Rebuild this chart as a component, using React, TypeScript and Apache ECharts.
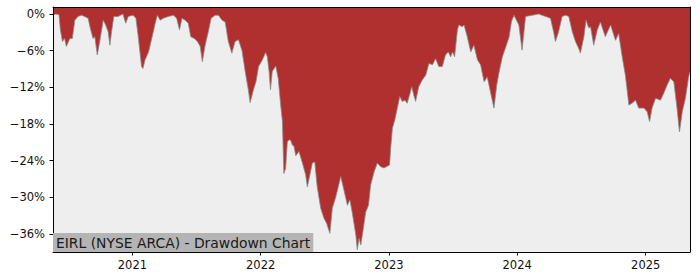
import React, { useEffect, useRef } from "react";
import * as echarts from "echarts";

const dates: string[] = [
  "2020-05-20","2020-05-28","2020-06-06","2020-06-10","2020-06-16","2020-06-22","2020-06-27","2020-07-07","2020-07-14","2020-07-21","2020-07-30","2020-08-09","2020-08-18","2020-08-28","2020-09-03","2020-09-11","2020-09-16","2020-09-23","2020-09-30","2020-10-10","2020-10-17","2020-10-24","2020-10-29","2020-11-02","2020-11-09","2020-11-21","2020-12-05","2020-12-13","2020-12-20",
  "2021-01-03","2021-01-11","2021-01-17","2021-01-27","2021-01-31","2021-02-06","2021-02-16","2021-02-25","2021-03-07","2021-03-13","2021-03-21","2021-03-30","2021-04-13","2021-04-28","2021-05-07","2021-05-15","2021-05-22","2021-05-31","2021-06-09","2021-06-16","2021-06-26","2021-07-05","2021-07-13","2021-07-19","2021-07-27","2021-08-05","2021-08-13","2021-08-24","2021-09-03","2021-09-13","2021-09-22","2021-10-01","2021-10-11","2021-10-20","2021-10-30","2021-11-09","2021-11-18","2021-11-27","2021-12-02","2021-12-12","2021-12-19","2021-12-26",
  "2022-01-06","2022-01-15","2022-01-20","2022-01-25","2022-01-29","2022-02-03","2022-02-13","2022-02-20","2022-02-27","2022-03-04","2022-03-08","2022-03-13","2022-03-18","2022-03-23","2022-03-27","2022-04-01","2022-04-06","2022-04-11","2022-04-20","2022-04-30","2022-05-09","2022-05-14","2022-05-19","2022-05-28","2022-06-04","2022-06-11","2022-06-21","2022-06-30","2022-07-08","2022-07-17","2022-07-24","2022-08-03","2022-08-17","2022-08-26","2022-09-05","2022-09-12","2022-09-19","2022-09-29","2022-10-03","2022-10-08","2022-10-13","2022-10-19","2022-10-27","2022-11-04","2022-11-10","2022-11-20","2022-11-29","2022-12-09","2022-12-18",
  "2023-01-03","2023-01-06","2023-01-11","2023-01-18","2023-01-25","2023-02-01","2023-02-08","2023-02-16","2023-02-22","2023-03-02","2023-03-07","2023-03-13","2023-03-18","2023-03-27","2023-04-06","2023-04-16","2023-04-25","2023-05-05","2023-05-14","2023-05-23","2023-06-02","2023-06-11","2023-06-19","2023-06-26","2023-07-01","2023-07-07","2023-07-15","2023-07-19","2023-07-29","2023-08-03","2023-08-12","2023-08-22","2023-08-31","2023-09-10","2023-09-19","2023-09-29","2023-10-08","2023-10-18","2023-10-27","2023-11-04","2023-11-10","2023-11-20","2023-11-29","2023-12-09","2023-12-16","2023-12-23",
  "2024-01-06","2024-01-15","2024-01-25","2024-02-13","2024-03-02","2024-03-22","2024-04-05","2024-04-14","2024-04-19","2024-04-28","2024-05-08","2024-05-18","2024-05-27","2024-06-06","2024-06-15","2024-06-24","2024-06-29","2024-07-09","2024-07-15","2024-07-23","2024-07-28","2024-08-06","2024-08-16","2024-08-25","2024-09-08","2024-09-23","2024-10-07","2024-10-16","2024-10-26","2024-11-04","2024-11-14","2024-11-23","2024-12-03","2024-12-12","2024-12-27",
  "2025-01-05","2025-01-12","2025-01-19","2025-01-29","2025-02-12","2025-02-21","2025-03-03","2025-03-12","2025-03-22","2025-03-31","2025-04-07","2025-04-15","2025-04-24","2025-05-03","2025-05-07",
];

const drawdown: number[] = [
  -0.2, 0, -0.1, -2.6, -4.5, -4.0, -5.3, -4.0, -4.0, -1.0, -0.4, -0.2, -0.4, -0.7, -2.3, -4.0, -3.7, -6.7, -4.5, -1.0, -1.8, -2.9, -5.1, -3.2, -0.4, -0.4, 0, -1.5, -0.4,
  -0.2, -0.7, -3.4, -8.6, -8.9, -7.5, -6.2, -4.0, -1.5, -0.2, -1.0, -0.7, -0.4, -0.2, -0.7, -2.6, -0.7, -1.0, -1.5, -3.7, -4.0, -4.5, -5.3, -7.8, -5.1, -2.9, -0.7, -0.2, -0.2, -1.0, -1.3, -4.5, -6.4, -4.5, -4.2, -6.0, -9.4, -12.4, -14.5, -12.3, -11.0, -8.6,
  -7.5, -6.3, -7.0, -9.4, -12.4, -9.4, -8.5, -10.5, -14.9, -17.6, -26.1, -25.3, -20.9, -20.6, -20.6, -21.4, -21.7, -23.2, -22.5, -24.4, -26.3, -28.3, -26.9, -24.4, -24.2, -28.3, -31.8, -33.4, -34.3, -35.9, -31.8, -29.9, -26.6, -28.8, -31.3, -30.4, -32.6, -36.2, -38.6, -36.7, -37.8, -35.6, -32.4, -31.3, -28.0, -25.8, -24.4, -25.0, -25.2,
  -24.7, -22.0, -18.7, -17.3, -15.4, -13.5, -14.3, -14.1, -14.6, -13.0, -11.9, -13.3, -14.3, -11.9, -10.8, -10.0, -8.1, -8.3, -7.3, -8.6, -8.6, -6.7, -6.2, -7.0, -6.2, -7.0, -2.6, -1.8, -2.1, -1.8, -3.7, -6.2, -5.1, -7.5, -8.3, -11.1, -10.3, -13.0, -15.4, -11.6, -9.7, -7.0, -5.5, -3.8, -1.2, -0.2,
  -1.8, -5.9, -0.4, -0.2, 0, -0.4, -0.7, -3.0, -4.5, -2.9, -0.4, -0.2, -0.4, -2.9, -4.5, -5.6, -6.4, -3.7, -1.0, -2.3, -2.1, -5.1, -2.6, -1.3, -3.7, -1.8, -4.3, -3.2, -7.0, -10.0, -14.9, -14.6, -14.1, -15.4, -15.4,
  -16.0, -17.6, -15.4, -13.8, -14.1, -13.0, -11.6, -10.5, -11.1, -15.4, -19.3, -16.0, -13.8, -10.3, -9.5,
];

const yTicks: number[] = [0, -6, -12, -18, -24, -30, -36];
const yearTicks: string[] = ["2021-01-01", "2022-01-01", "2023-01-01", "2024-01-01", "2025-01-01"];
const titleText = "EIRL (NYSE ARCA) - Drawdown Chart";

const FONT = "DejaVu Sans";
const ts = (d: string) => new Date(d + "T00:00:00").getTime();

export default function App() {
  const ref = useRef<HTMLDivElement>(null);
  useEffect(() => {
    document.body.style.margin = "0";
    if (!ref.current) return;
    const chart = echarts.init(ref.current, undefined, { renderer: "svg" });
    const yearValues = yearTicks.map(ts);
    const xMin = ts(dates[0]);
    const xMax = ts(dates[dates.length - 1]);
    const fmtPct = (v: number) => (v === 0 ? "0%" : (v < 0 ? "\u2212" : "") + Math.abs(v) + "%");
    chart.setOption({
      animation: false,
      title: {
        text: titleText,
        left: 53,
        top: 233,
        backgroundColor: "#b4b4b4",
        padding: [2, 3, 2, 3],
        textStyle: { fontFamily: FONT, fontSize: 13.9, fontWeight: "normal", color: "#1a1a1a", lineHeight: 15 },
        z: 20,
      },
      grid: {
        left: 53,
        right: 10,
        top: 7,
        bottom: 28,
        show: true,
        backgroundColor: "#eeeeee",
        borderWidth: 0,
      },
      xAxis: [
        {
          type: "value",
          min: xMin,
          max: xMax,
          z: 10,
          axisLine: { show: true, onZero: false, lineStyle: { color: "#000", width: 1 } },
          axisTick: { show: true, length: 3.5, lineStyle: { color: "#000" }, customValues: yearValues },
          axisLabel: {
            customValues: yearValues,
            formatter: (v: number) => String(new Date(v).getFullYear()),
            fontFamily: FONT,
            fontSize: 11.5,
            color: "#111",
            margin: 7,
          },
          splitLine: { show: false },
        },
        {
          type: "value",
          position: "top",
          min: xMin,
          max: xMax,
          z: 10,
          axisLine: { show: true, onZero: false, lineStyle: { color: "#000", width: 1 } },
          axisTick: { show: false },
          axisLabel: { show: false },
          splitLine: { show: false },
        },
      ],
      yAxis: [
        {
          type: "value",
          min: -38.95,
          max: 1.15,
          z: 10,
          axisLine: { show: true, onZero: false, lineStyle: { color: "#000", width: 1 } },
          axisTick: { show: true, length: 3.5, lineStyle: { color: "#000" }, customValues: yTicks },
          axisLabel: {
            customValues: yTicks,
            formatter: fmtPct,
            fontFamily: FONT,
            fontSize: 11.5,
            color: "#111",
            margin: 8,
          },
          splitLine: { show: false },
        },
        {
          type: "value",
          position: "right",
          min: -38.95,
          max: 1.15,
          z: 10,
          axisLine: { show: true, onZero: false, lineStyle: { color: "#000", width: 1 } },
          axisTick: { show: false },
          axisLabel: { show: false },
          splitLine: { show: false },
        },
      ],
      series: [
        {
          name: "Drawdown",
          type: "line",
          xAxisIndex: 0,
          yAxisIndex: 0,
          data: dates.map((d, i) => [ts(d), drawdown[i]]),
          showSymbol: false,
          symbol: "none",
          lineStyle: { color: "#8a8a8a", width: 0.8 },
          areaStyle: { color: "#b02f2f", opacity: 1, origin: "end" },
        },
      ],
    });
    return () => chart.dispose();
  }, []);
  return <div ref={ref} style={{ width: 700, height: 280 }} />;
}
